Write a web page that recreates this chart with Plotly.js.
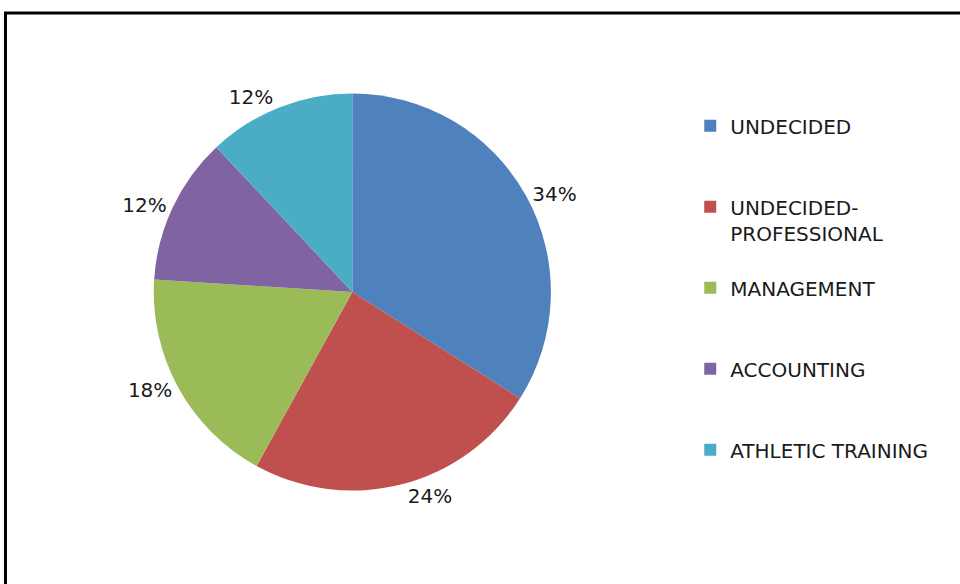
<!DOCTYPE html>
<html>
<head>
<meta charset="utf-8">
<script src="https://cdn.plot.ly/plotly-3.0.1.min.js"></script>
<style>
  html, body { margin: 0; padding: 0; background: #fff; }
  #chart { width: 960px; height: 584px; }
</style>
</head>
<body>
<div id="chart"></div>
<script>
const categories = ["UNDECIDED", "UNDECIDED-<br>PROFESSIONAL", "MANAGEMENT", "ACCOUNTING", "ATHLETIC TRAINING"];
const shares = [34, 24, 18, 12, 12];
const colors = ["#4F81BD", "#C0504D", "#9BBB59", "#8064A2", "#4BACC6"];

// pad each legend entry to three lines so entries sit ~80px apart like the original
const legendLabels = categories.map(c => {
  const lines = c.split("<br>").length;
  let s = c;
  for (let i = lines; i < 3; i++) s += "<br> ";
  return s;
});

const FONT = "'DejaVu Sans', 'Open Sans', sans-serif";

const trace = {
  type: "pie",
  labels: legendLabels,
  values: shares,
  sort: false,
  direction: "clockwise",
  rotation: 0,
  marker: { colors: colors, line: { width: 0 } },
  textposition: "outside",
  texttemplate: "%{percent:.0%}",
  textfont: { family: FONT, size: 20, color: "#1a1a1a" },
  outsidetextfont: { family: FONT, size: 20, color: "#1a1a1a" },
  hoverinfo: "label+percent",
  domain: { x: [0.08, 0.654], y: [0.16, 0.84] },
  automargin: false
};

const layout = {
  width: 960,
  height: 584,
  margin: { l: 0, r: 0, t: 0, b: 0 },
  paper_bgcolor: "#ffffff",
  showlegend: true,
  legend: {
    x: 0.719, xanchor: "left",
    y: 0.818, yanchor: "top",
    valign: "top",
    font: { family: FONT, size: 20, color: "#1a1a1a" },
    itemwidth: 30,
    tracegroupgap: 0,
    bgcolor: "rgba(0,0,0,0)"
  },
  shapes: [{
    type: "rect", xref: "paper", yref: "paper",
    x0: 0.0057, x1: 1.05, y0: -0.05, y1: 0.9777,
    line: { color: "#000", width: 3 }, fillcolor: "rgba(0,0,0,0)"
  }]
};

Plotly.newPlot("chart", [trace], layout, { displayModeBar: false, staticPlot: true });
</script>
</body>
</html>
